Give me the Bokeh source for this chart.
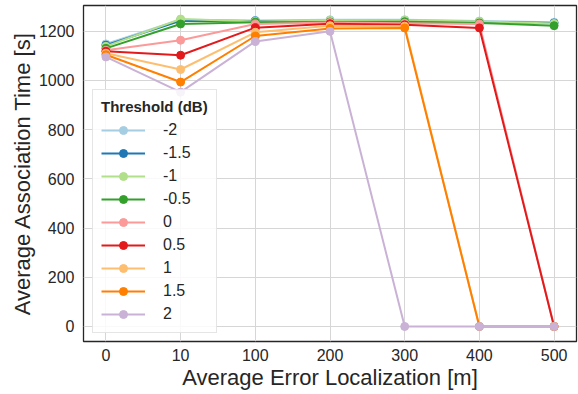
from bokeh.plotting import figure
from bokeh.models import Range1d, FixedTicker, Legend, LegendItem
from bokeh.embed import file_html
from bokeh.resources import INLINE

x_labels = ["0", "10", "100", "200", "300", "400", "500"]
thresholds = ["-2", "-1.5", "-1", "-0.5", "0", "0.5", "1", "1.5", "2"]
colors = ["#a6cee3", "#1f78b4", "#b2df8a", "#33a02c", "#fb9a99",
          "#e31a1c", "#fdbf6f", "#ff7f00", "#cab2d6"]

s_m2 = [1148, 1246, 1243, 1246, 1246, 1241, 1236]
s_m15 = [1143, 1242, 1241, 1241, 1242, 1237, 1233]
s_m1 = [1138, 1249, 1239, 1243, 1244, 1239, 1231]
s_m05 = [1130, 1229, 1236, 1237, 1238, 1233, 1222]
s_0 = [1122, 1163, 1229, 1235, 1232, 1229, 0]
s_05 = [1118, 1102, 1214, 1230, 1226, 1213, 0]
s_1 = [1110, 1044, 1195, 1222, 1220, 0, 0]
s_15 = [1104, 993, 1180, 1211, 1213, 0, 0]
s_2 = [1095, 952, 1158, 1199, 0, 0, 0]
series = [s_m2, s_m15, s_m1, s_m05, s_0, s_05, s_1, s_15, s_2]

y_ticks = [0, 200, 400, 600, 800, 1000, 1200]

FONT = "Liberation Sans"
TXT = "#262626"

p = figure(width=578, height=392, output_backend="svg", toolbar_location=None,
           x_range=Range1d(-0.3, len(x_labels) - 1 + 0.3),
           y_range=Range1d(-61, 1304),
           min_border_left=83, min_border_right=2, min_border_top=5,
           min_border_bottom=51)
p.background_fill_color = "white"
p.border_fill_color = "white"
p.outline_line_color = "#262626"
p.outline_line_width = 1.3

xs = list(range(len(x_labels)))
items = []
for name, ys, c in zip(thresholds, series, colors):
    r1 = p.line(xs, ys, line_color=c, line_width=2)
    r2 = p.scatter(xs, ys, size=8, fill_color=c, line_color=c)
    items.append(LegendItem(label=name, renderers=[r1, r2]))

p.xaxis.ticker = FixedTicker(ticks=xs)
p.xaxis.major_label_overrides = {i: l for i, l in enumerate(x_labels)}
p.yaxis.ticker = FixedTicker(ticks=y_ticks)

for ax in (p.xaxis[0], p.yaxis[0]):
    ax.axis_line_color = None
    ax.major_tick_line_color = None
    ax.minor_tick_line_color = None
    ax.major_label_text_font = FONT
    ax.major_label_text_font_size = "16px"
    ax.major_label_text_color = TXT
    ax.axis_label_text_font = FONT
    ax.axis_label_text_font_size = "22px"
    ax.axis_label_text_font_style = "normal"
    ax.axis_label_text_color = TXT

p.xaxis.axis_label = "Average Error Localization [m]"
p.yaxis.axis_label = "Average Association Time [s]"
p.xaxis.major_label_standoff = 1
p.yaxis.major_label_standoff = 3
p.xaxis.axis_label_standoff = 1
p.yaxis.axis_label_standoff = 1

p.xgrid.grid_line_color = "#d6d6d6"
p.ygrid.grid_line_color = "#d6d6d6"
p.xgrid.grid_line_width = 1
p.ygrid.grid_line_width = 1

legend = Legend(items=items, location=(9, 8))
legend.title = "Threshold (dB)"
legend.title_text_font = FONT
legend.title_text_font_style = "bold"
legend.title_text_font_size = "15px"
legend.title_text_color = TXT
legend.label_text_font = FONT
legend.label_text_font_size = "16px"
legend.label_text_color = TXT
legend.glyph_width = 44
legend.glyph_height = 20
legend.label_height = 20
legend.spacing = 3
legend.label_standoff = 18
legend.padding = 8
legend.margin = 0
legend.border_line_color = "#cccccc"
legend.border_line_width = 1
legend.background_fill_color = "white"
legend.background_fill_alpha = 0.85
p.add_layout(legend, "center")

open("out.html", "w").write(file_html(p, INLINE))
